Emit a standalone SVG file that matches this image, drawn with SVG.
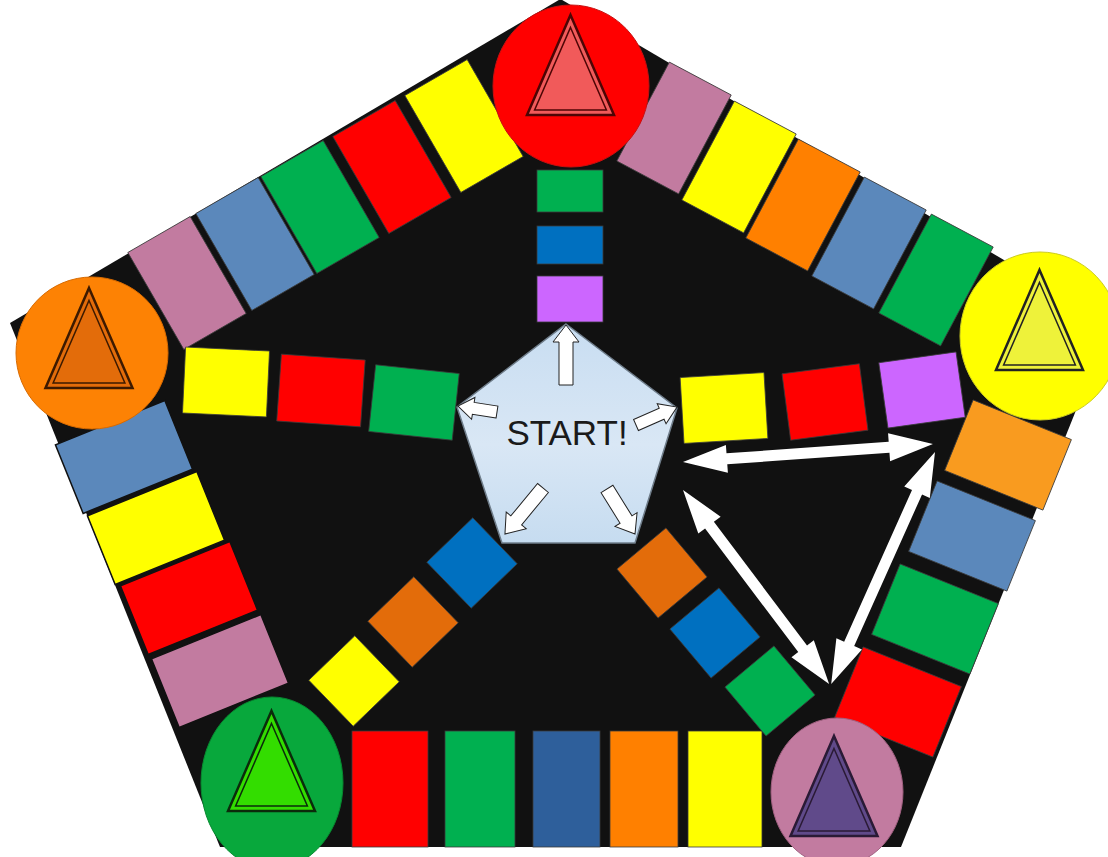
<svg xmlns="http://www.w3.org/2000/svg" xmlns:xlink="http://www.w3.org/1999/xlink" width="1108" height="857" viewBox="0 0 1108 857">
<defs>
<style>
.t{stroke:#3a3a3a;stroke-width:0.8}
.tk{stroke:#111;stroke-width:1.5}
.r{fill:#ff0000}.y{fill:#ffff00}.g{fill:#00b050}.sb{fill:#5b88bb}.pk{fill:#c27ba0}
.o{fill:#ff8000}.lo{fill:#f99b1f}.do{fill:#e36c0a}.b{fill:#0070c0}.db{fill:#2e5f9b}.pu{fill:#cc66ff}
.big{fill:#ffffff}
.sm{fill:#ffffff;stroke:#222;stroke-width:1}
.lbl{font-family:"Liberation Sans",Arial,sans-serif;font-size:35px;fill:#1a1a1a;text-anchor:middle}
</style>
<path id="triO" d="M0,-71.5 L43.5,28.5 L-43.5,28.5 Z"/>
<path id="triI" d="M0,-59 L35.9,23.5 L-35.9,23.5 Z"/>
<linearGradient id="sg" x1="0" y1="0" x2="0" y2="1">
<stop offset="0" stop-color="#c8ddf1"/>
<stop offset="0.55" stop-color="#d9e7f5"/>
<stop offset="1" stop-color="#c6dcf0"/>
</linearGradient>
</defs>
<rect width="1108" height="857" fill="#ffffff"/>
<g id="board">
<polygon points="560.5,-1 1111,323 901,847 220,847 10,323" fill="#111111"/>
</g>
<g id="edge-top-left">
<rect class="pk t" x="-36" y="-56" width="72" height="112" transform="translate(187,283) rotate(-30)"/>
<rect class="sb t" x="-36" y="-56" width="72" height="112" transform="translate(255,244) rotate(-30)"/>
<rect class="g t" x="-36" y="-56" width="72" height="112" transform="translate(320,207) rotate(-30)"/>
<rect class="r t" x="-36" y="-56" width="72" height="112" transform="translate(392,167) rotate(-30)"/>
<rect class="y t" x="-36" y="-56" width="72" height="112" transform="translate(464,126) rotate(-30)"/>
</g>
<g id="edge-top-right">
<rect class="pk t" x="-35" y="-56" width="70" height="112" transform="translate(674,128) rotate(28)"/>
<rect class="y t" x="-35" y="-56" width="70" height="112" transform="translate(739,167) rotate(28)"/>
<rect class="o t" x="-35" y="-56" width="70" height="112" transform="translate(803,205) rotate(28)"/>
<rect class="sb t" x="-35" y="-56" width="70" height="112" transform="translate(869,243) rotate(28)"/>
<rect class="g t" x="-35" y="-56" width="70" height="112" transform="translate(936,280) rotate(28)"/>
</g>
<g id="edge-right">
<rect class="lo t" x="-53" y="-38" width="106" height="76" transform="translate(1008,455) rotate(22)"/>
<rect class="sb t" x="-53" y="-38" width="106" height="76" transform="translate(972,536) rotate(22)"/>
<rect class="g t" x="-53" y="-38" width="106" height="76" transform="translate(935,619) rotate(22)"/>
<rect class="r t" x="-53" y="-38" width="106" height="76" transform="translate(898,702) rotate(22)"/>
</g>
<g id="edge-bottom">
<rect class="r t" x="352" y="731" width="76" height="116"/>
<rect class="g t" x="445" y="731" width="70" height="116"/>
<rect class="db t" x="533" y="731" width="67" height="116"/>
<rect class="o t" x="610" y="731" width="68" height="116"/>
<rect class="y t" x="688" y="731" width="74" height="116"/>
</g>
<g id="edge-left">
<rect class="sb tk" x="-59" y="-37" width="118" height="74" transform="translate(124,457) rotate(-22)"/>
<rect class="y tk" x="-59" y="-37" width="118" height="74" transform="translate(156,528) rotate(-22)"/>
<rect class="r tk" x="-59" y="-37" width="118" height="74" transform="translate(189,598) rotate(-22)"/>
<rect class="pk tk" x="-59" y="-37" width="118" height="74" transform="translate(220,671) rotate(-22)"/>
</g>
<g id="spoke-top">
<rect class="g t" x="537" y="170" width="66" height="42"/>
<rect class="b t" x="537" y="226" width="66" height="38"/>
<rect class="pu t" x="537" y="276" width="66" height="46"/>
</g>
<g id="spoke-left">
<rect class="y t" x="-42" y="-33" width="84" height="66" transform="translate(226,382) rotate(2.7)"/>
<rect class="r t" x="-42" y="-33" width="84" height="67" transform="translate(321,390) rotate(4)"/>
<rect class="g t" x="-42" y="-33" width="84" height="67" transform="translate(414,402) rotate(6)"/>
</g>
<g id="spoke-right">
<rect class="y t" x="-42" y="-33" width="84" height="66" transform="translate(724,408) rotate(-3.4)"/>
<rect class="r t" x="-39" y="-33.5" width="78" height="67" transform="translate(825,402) rotate(-7.4)"/>
<rect class="pu t" x="-39" y="-33" width="78" height="66" transform="translate(922,390) rotate(-8)"/>
</g>
<g id="spoke-bottom-left">
<rect class="b t" x="-32" y="-32" width="64" height="64" transform="translate(472,563) rotate(46)"/>
<rect class="do t" x="-32" y="-32" width="64" height="64" transform="translate(413,622) rotate(46)"/>
<rect class="y t" x="-32" y="-32" width="64" height="64" transform="translate(354,681) rotate(46)"/>
</g>
<g id="spoke-bottom-right">
<rect class="do t" x="-32" y="-32" width="64" height="64" transform="translate(662,573) rotate(50)"/>
<rect class="b t" x="-32" y="-32" width="64" height="64" transform="translate(715,633) rotate(50)"/>
<rect class="g t" x="-32" y="-32" width="64" height="64" transform="translate(770,691) rotate(50)"/>
</g>
<g id="home-red">
<ellipse cx="571" cy="86" rx="78" ry="81" fill="#ff0000" stroke="#c81010" stroke-width="1"/>
<g transform="translate(570.5,86.5)">
<use xlink:href="#triO" href="#triO" fill="#f15a5a" stroke="#4d0505" stroke-width="2.5"/>
<use xlink:href="#triI" href="#triI" fill="none" stroke="#4d0505" stroke-width="1.5"/>
</g>
</g>
<g id="home-orange">
<circle cx="92" cy="353" r="76" fill="#fd8204" stroke="#d86a00" stroke-width="1"/>
<g transform="translate(89,359.5)">
<use xlink:href="#triO" href="#triO" fill="#e36c0a" stroke="#3d1a00" stroke-width="2.5"/>
<use xlink:href="#triI" href="#triI" fill="none" stroke="#3d1a00" stroke-width="1.5"/>
</g>
</g>
<g id="home-yellow">
<ellipse cx="1040" cy="336" rx="80" ry="84" fill="#ffff00" stroke="#cccc20" stroke-width="1"/>
<g transform="translate(1039.5,341.5)">
<use xlink:href="#triO" href="#triO" fill="#eef23a" stroke="#222" stroke-width="2.5"/>
<use xlink:href="#triI" href="#triI" fill="none" stroke="#222" stroke-width="1.5"/>
</g>
</g>
<g id="home-green">
<ellipse cx="272" cy="783" rx="71" ry="86" fill="#08a83c" stroke="#078a30" stroke-width="1"/>
<g transform="translate(271.5,782.5)">
<use xlink:href="#triO" href="#triO" fill="#33dd00" stroke="#0b2b0b" stroke-width="2.5"/>
<use xlink:href="#triI" href="#triI" fill="none" stroke="#0b2b0b" stroke-width="1.5"/>
</g>
</g>
<g id="home-pink">
<ellipse cx="837" cy="792" rx="66" ry="74" fill="#c27ba0" stroke="#a06080" stroke-width="1"/>
<g transform="translate(834,807.5)">
<use xlink:href="#triO" href="#triO" fill="#604a8a" stroke="#2a1a35" stroke-width="2.5"/>
<use xlink:href="#triI" href="#triI" fill="none" stroke="#2a1a35" stroke-width="1.5"/>
</g>
</g>
<g id="start">
<polygon points="566,324 677,408 635,543 502,543 457,407" fill="url(#sg)" stroke="#6f7d8a" stroke-width="1.5"/>
<text class="lbl" x="567" y="445">START!</text>
</g>
<g id="connectors">
<path class="sm" transform="translate(566,385) rotate(-90)" d="M0,-7 L43,-7 L43,-13 L60,0 L43,13 L43,7 L0,7 Z"/>
<path class="sm" transform="translate(497,412) rotate(188.7)" d="M0,-6 L24,-6 L24,-11 L39.5,0 L24,11 L24,6 L0,6 Z"/>
<path class="sm" transform="translate(636,425) rotate(-23.7)" d="M0,-6 L28,-6 L28,-11 L44.8,0 L28,11 L28,6 L0,6 Z"/>
<path class="sm" transform="translate(543,488) rotate(129.6)" d="M0,-7 L42,-7 L42,-13 L59.7,0 L42,13 L42,7 L0,7 Z"/>
<path class="sm" transform="translate(607,489) rotate(58.1)" d="M0,-7 L36,-7 L36,-13 L53,0 L36,13 L36,7 L0,7 Z"/>
<path class="big" transform="translate(683,462) rotate(-4.1)" d="M0,0 L44,-14 L44,-5.5 L206.6,-5.5 L206.6,-14 L250.6,0 L206.6,14 L206.6,5.5 L44,5.5 L44,14 Z"/>
<path class="big" transform="translate(683,490) rotate(53)" d="M0,0 L44,-14 L44,-5.5 L198.8,-5.5 L198.8,-14 L242.8,0 L198.8,14 L198.8,5.5 L44,5.5 L44,14 Z"/>
<path class="big" transform="translate(935,452) rotate(114.1)" d="M0,0 L44,-14 L44,-5.5 L210.2,-5.5 L210.2,-14 L254.2,0 L210.2,14 L210.2,5.5 L44,5.5 L44,14 Z"/>
</g>
</svg>
